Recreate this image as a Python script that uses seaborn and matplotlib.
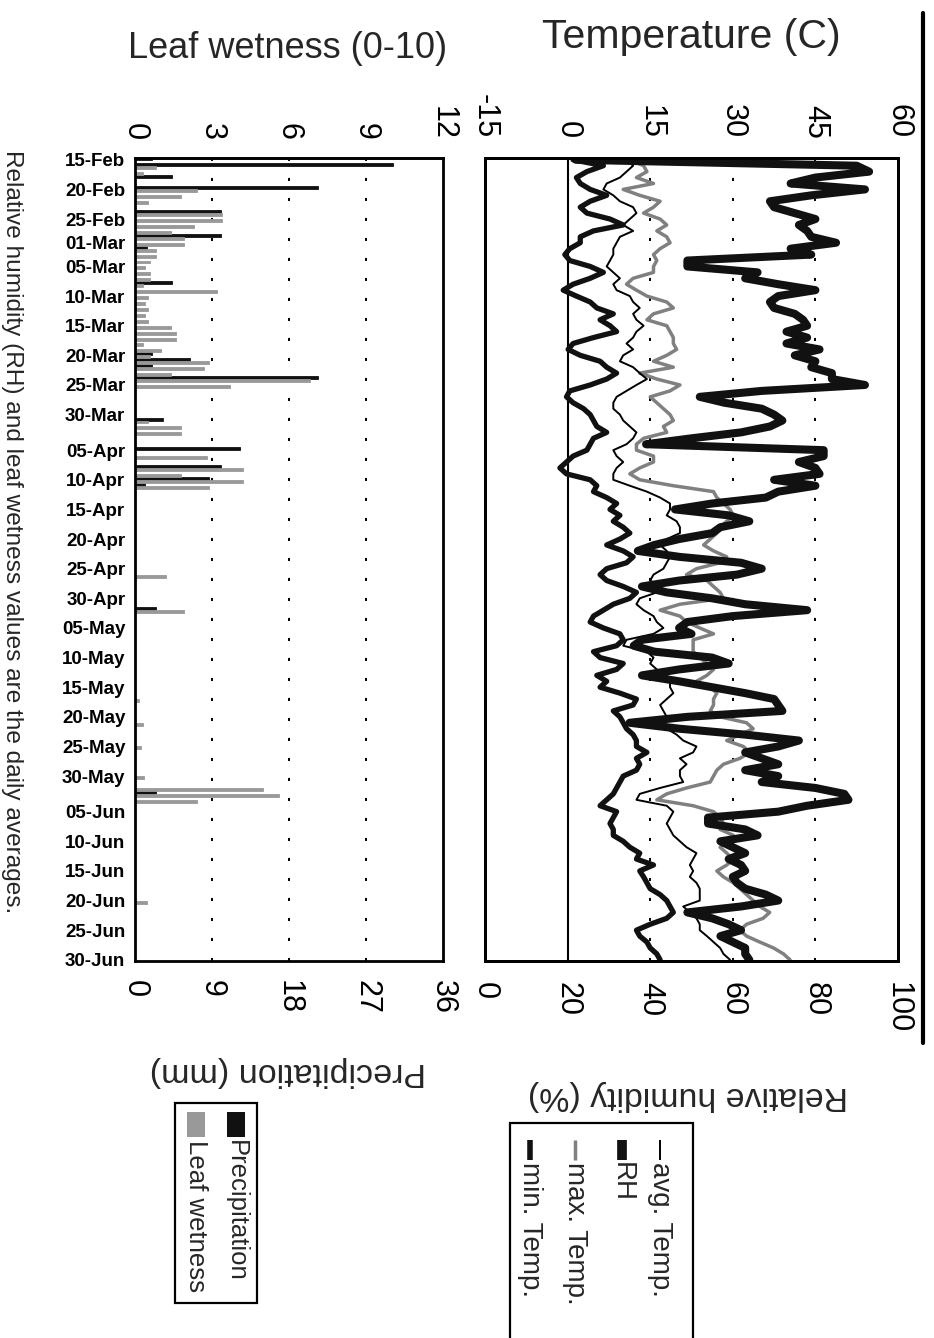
import numpy as np
import pandas as pd
import matplotlib
matplotlib.use("Agg")
import matplotlib.pyplot as plt
import seaborn as sns
from matplotlib.lines import Line2D
from matplotlib.patches import Rectangle

# daily values, 15-Feb .. 30-Jun (136 days)
start_date = "15-Feb-2001"
date_labels = ["15-Feb", "20-Feb", "25-Feb", "01-Mar", "05-Mar", "10-Mar", "15-Mar",
               "20-Mar", "25-Mar", "30-Mar", "05-Apr", "10-Apr", "15-Apr", "20-Apr",
               "25-Apr", "30-Apr", "05-May", "10-May", "15-May", "20-May", "25-May",
               "30-May", "05-Jun", "10-Jun", "15-Jun", "20-Jun", "25-Jun", "30-Jun"]

min_temp = [1.0, 6.5, 3.5, 1.6, 2.3, 4.1, 7.1, 4.1, 2.3, 3.5,
            7.7, 10.1, 4.7, 2.3, 2.3, 0.4, -0.5, 0.4, 4.1, 6.5,
            4.1, 1.0, -0.8, 1.6, 4.1, 5.3, 8.3, 5.9, 7.7, 8.9,
            4.7, 1.0, 0.1, 2.3, 5.9, 7.1, 8.9, 7.1, 4.1, 0.4,
            -0.2, 1.0, 2.9, 4.1, 4.7, 5.3, 7.1, 4.7, 4.1, 3.5,
            1.0, -0.2, -1.4, -0.2, 4.1, 5.3, 4.7, 7.1, 8.9, 7.7,
            9.5, 8.3, 10.1, 11.3, 9.5, 7.1, 10.1, 11.9, 10.7, 7.1,
            5.9, 7.1, 10.1, 12.5, 11.3, 8.3, 6.5, 4.7, 4.1, 6.5,
            9.5, 10.1, 8.9, 4.7, 5.9, 10.1, 8.9, 5.3, 7.1, 5.9,
            9.5, 12.5, 11.9, 8.3, 9.5, 10.1, 10.7, 11.9, 12.5, 12.5,
            14.4, 12.5, 13.1, 12.5, 10.1, 9.5, 8.9, 8.3, 7.1, 5.9,
            8.9, 8.3, 7.7, 8.3, 8.3, 10.1, 11.3, 13.1, 12.5, 15.6,
            13.1, 13.8, 14.4, 15.0, 16.8, 18.0, 18.6, 19.2, 18.0, 15.0,
            12.5, 13.1, 14.4, 15.0, 16.2, 16.8]

avg_temp = [10.7, 11.9, 10.7, 9.5, 7.1, 6.5, 8.3, 9.5, 11.9, 12.5,
            11.3, 10.1, 11.9, 9.5, 8.9, 8.3, 8.3, 7.7, 7.1, 8.3,
            9.5, 8.3, 8.9, 11.3, 11.9, 13.1, 11.9, 12.5, 13.8, 12.5,
            11.9, 10.7, 11.9, 10.1, 9.5, 11.9, 13.1, 14.4, 12.5, 10.7,
            8.9, 8.3, 8.3, 9.5, 10.1, 11.3, 12.5, 11.9, 10.7, 8.3,
            8.9, 10.1, 8.9, 8.3, 8.3, 11.3, 14.4, 16.8, 18.6, 18.6,
            18.0, 19.8, 20.4, 20.4, 18.0, 16.8, 18.0, 18.6, 18.0, 17.4,
            15.6, 15.0, 16.8, 16.2, 13.1, 12.5, 13.8, 15.6, 16.2, 17.4,
            15.6, 10.7, 10.1, 14.4, 15.6, 15.0, 16.2, 18.0, 18.6, 18.6,
            19.2, 18.0, 16.8, 17.4, 18.0, 16.8, 18.0, 19.8, 21.0, 23.4,
            22.8, 20.4, 21.6, 20.4, 20.4, 21.0, 16.8, 13.1, 12.5, 18.0,
            19.2, 18.6, 18.0, 18.6, 19.2, 20.4, 21.6, 23.4, 22.8, 22.2,
            22.8, 22.2, 23.4, 24.0, 24.0, 24.0, 21.0, 22.2, 23.4, 24.0,
            24.0, 25.3, 26.5, 27.7, 28.3, 29.5]

max_temp = [11.3, 13.8, 14.4, 12.5, 15.6, 10.1, 13.1, 16.8, 15.6, 13.8,
            16.8, 18.0, 16.2, 18.0, 18.6, 16.8, 15.6, 16.2, 15.6, 15.6,
            11.9, 10.7, 12.5, 14.4, 18.0, 19.2, 15.6, 14.4, 18.0, 18.6,
            19.2, 19.2, 19.8, 18.0, 15.6, 19.2, 13.1, 16.2, 20.4, 18.6,
            15.0, 16.2, 17.4, 18.6, 19.2, 17.4, 18.0, 13.8, 12.5, 12.5,
            15.6, 15.6, 13.1, 11.3, 13.1, 19.2, 26.5, 27.1, 28.3, 29.5,
            30.1, 28.9, 27.7, 27.1, 25.9, 24.7, 26.5, 28.9, 27.7, 23.4,
            21.6, 25.3, 26.5, 27.7, 28.3, 20.4, 16.8, 20.4, 21.6, 24.0,
            26.5, 22.8, 22.8, 22.8, 24.0, 25.3, 26.5, 25.3, 23.4, 25.9,
            27.1, 26.5, 26.5, 25.9, 27.7, 32.5, 33.7, 31.3, 28.9, 31.9,
            33.1, 31.3, 28.3, 27.1, 26.5, 25.9, 21.6, 18.0, 16.2, 22.8,
            26.5, 27.7, 28.3, 27.7, 30.1, 28.9, 27.7, 28.9, 30.1, 28.9,
            27.1, 28.3, 30.1, 31.3, 32.5, 33.7, 34.9, 36.7, 35.5, 32.5,
            31.3, 32.5, 34.9, 37.4, 39.2, 40.4]

rh = [22, 90, 93, 80, 74, 92, 79, 69, 70, 75,
      80, 76, 78, 79, 85, 74, 79, 49, 49, 66,
      63, 71, 80, 71, 69, 70, 75, 77, 78, 73,
      78, 73, 81, 75, 80, 79, 84, 84, 92, 67,
      52, 58, 67, 70, 72, 69, 62, 50, 39, 82,
      82, 76, 80, 81, 70, 80, 71, 68, 55, 46,
      59, 64, 57, 55, 47, 41, 37, 47, 62, 67,
      61, 47, 38, 44, 55, 63, 78, 60, 49, 47,
      50, 38, 36, 41, 55, 59, 47, 38, 47, 55,
      63, 70, 71, 72, 49, 35, 47, 63, 76, 71,
      63, 67, 71, 63, 71, 67, 80, 87, 88, 78,
      71, 54, 54, 63, 66, 57, 60, 63, 59, 62,
      63, 60, 61, 63, 68, 71, 62, 49, 55, 59,
      62, 57, 60, 63, 63, 64]

precipitation = [2.0, 30.2, 0, 4.3, 0, 21.4, 0, 0, 0, 10.1,
                 0, 0, 0, 10.1, 0, 1.4, 0, 0, 0, 0,
                 0, 4.3, 0, 0, 0, 0, 0, 0, 0, 0,
                 0, 0, 0, 2.0, 6.4, 2.0, 0, 21.4, 0, 0,
                 0, 0, 0, 0, 3.3, 0, 0, 0, 0, 12.3,
                 0, 0, 10.1, 0, 8.6, 1.2, 0, 0, 0, 0,
                 0, 0, 0, 0, 0, 0, 0, 0, 0, 0,
                 0, 0, 0, 0, 0, 0, 2.5, 0, 0, 0,
                 0, 0, 0, 0, 0, 0, 0, 0, 0, 0,
                 0, 0, 0, 0, 0, 0, 0, 0, 0, 0,
                 0, 0, 0, 0, 0, 0, 0, 2.5, 0, 0,
                 0, 0, 0, 0, 0, 0, 0, 0, 0, 0,
                 0, 0, 0, 0, 0, 0, 0, 0, 0, 0,
                 0, 0, 0, 0, 0, 0]

leaf_wetness = [0, 0.8, 0.3, 0, 0, 2.4, 1.8, 0.5, 0, 3.4,
                3.4, 2.3, 1.4, 1.9, 1.9, 0.8, 0.8, 0.6, 0.4, 0.6,
                0.6, 0.3, 3.2, 0.5, 0.4, 0.5, 0.4, 0.5, 1.4, 1.6,
                1.6, 0.3, 1.0, 0.6, 2.9, 2.7, 1.4, 6.8, 3.7, 0,
                0, 0, 0, 0, 0.5, 1.8, 1.8, 0, 0, 0,
                2.8, 0, 4.2, 1.8, 4.2, 2.9, 0, 0, 0, 0,
                0, 0, 0, 0, 0, 0, 0, 0, 0, 0,
                1.2, 0, 0, 0, 0, 0, 1.9, 0, 0, 0,
                0, 0, 0, 0, 0, 0, 0, 0, 0, 0,
                0, 0.15, 0, 0, 0, 0.3, 0, 0, 0, 0.25,
                0, 0, 0, 0, 0.35, 0, 5.0, 5.6, 2.4, 0,
                0, 0, 0, 0, 0, 0, 0, 0, 0, 0,
                0, 0, 0, 0, 0, 0.45, 0, 0, 0, 0,
                0, 0, 0, 0, 0, 0]

temp_ticks = [-15, 0, 15, 30, 45, 60]
rh_ticks = [0, 20, 40, 60, 80, 100]
precip_ticks = [0, 9, 18, 27, 36]
wet_ticks = [0, 3, 6, 9, 12]

W, H = 934, 1338


def fx(x):
    return x / W


def fy(y):
    return 1 - y / H


sns.set_theme(style="white")
plt.rcParams['font.family'] = ['Liberation Sans', 'DejaVu Sans']
plt.rcParams['lines.scale_dashes'] = False
plt.rcParams['axes.unicode_minus'] = False

fig = plt.figure(figsize=(9.34, 13.38), dpi=100)
top, bottom = 158, 961
ax_bar = fig.add_axes([fx(135), fy(bottom), (443 - 135) / W, (bottom - top) / H])
ax_t = fig.add_axes([fx(485), fy(bottom), (898 - 485) / W, (bottom - top) / H])

days = np.arange(len(rh))
n = len(days)
day_pos = [(pd.to_datetime(d + "-2001", format="%d-%b-%Y")
            - pd.to_datetime(start_date, format="%d-%b-%Y")).days for d in date_labels]
ylims = (135.2, -0.3)
dots = (0, (2.2, 12.2))
black = "#111111"
gray_bar = "#999999"
gray_line = "#808080"

# ---- bars: precipitation (bottom axis) and leaf wetness (top axis, x3 scale)
bars = pd.DataFrame({
    "day": np.tile(days, 2),
    "value": np.concatenate([precipitation, np.array(leaf_wetness) * 3]),
    "series": ["Precipitation"] * n + ["Leaf wetness"] * n,
})
sns.barplot(data=bars, x="value", y="day", hue="series", orient="h",
            hue_order=["Precipitation", "Leaf wetness"],
            palette=[black, gray_bar], width=1.0, dodge=True,
            saturation=1, errorbar=None, legend=False, linewidth=0.6,
            ax=ax_bar)
for patch in ax_bar.patches:
    patch.set_edgecolor(patch.get_facecolor())
for v in precip_ticks[1:-1]:
    ax_bar.axvline(v, color="black", lw=1.4, ls=dots, zorder=0)
ax_bar.set_xlim(0, 36)
ax_bar.set_ylim(*ylims)
ax_bar.set_xticks(precip_ticks)
ax_bar.set_yticks(day_pos, date_labels)
ax_bar.set_xlabel("")
ax_bar.set_ylabel("")
ax_bar.tick_params(axis="y", length=0, pad=7, labelsize=13.5, labelcolor="black")
for lab in ax_bar.get_yticklabels():
    lab.set_fontweight("bold")
ax_bar.tick_params(axis="x", length=0, pad=14, labelsize=22, labelrotation=-90,
                   labelcolor="black")
sec = ax_bar.secondary_xaxis("top", functions=(lambda p: p / 3, lambda w: w * 3))
sec.set_xticks(wet_ticks)
sec.tick_params(length=0, pad=13, labelsize=22, labelrotation=-90, labelcolor="black")

# ---- lines: temperatures (top axis) and RH (bottom axis)
sns.lineplot(x=max_temp, y=days, orient="y", color=gray_line, linewidth=2.5,
             solid_joinstyle="round", ax=ax_t)
sns.lineplot(x=avg_temp, y=days, orient="y", color="black", linewidth=1.4,
             solid_joinstyle="round", ax=ax_t)
sns.lineplot(x=min_temp, y=days, orient="y", color=black, linewidth=3.8,
             solid_joinstyle="round", ax=ax_t)
for v in temp_ticks[2:-1]:
    ax_t.axvline(v, color="black", lw=1.4, ls=dots, zorder=0)
ax_t.axvline(0, color="black", lw=1.5, zorder=0)

ax_rh = ax_t.twiny()
sns.lineplot(x=rh, y=days, orient="y", color=black, linewidth=5.8,
             solid_joinstyle="round", ax=ax_rh)

ax_t.set_xlim(-15, 60)
ax_t.set_xticks(temp_ticks)
ax_t.xaxis.tick_top()
ax_t.set_yticks([])
ax_t.set_xlabel("")
ax_t.set_ylabel("")
ax_t.tick_params(axis="x", length=0, pad=14, labelsize=22, labelrotation=-90,
                 labelcolor="black")
ax_rh.set_xlim(0, 100)
ax_rh.set_xticks(rh_ticks)
ax_rh.xaxis.tick_bottom()
ax_rh.set_xlabel("")
ax_rh.tick_params(axis="x", length=0, pad=15, labelsize=22, labelrotation=-90,
                  labelcolor="black")
ax_t.set_ylim(*ylims)

for a in (ax_bar, ax_t, ax_rh):
    for s in a.spines.values():
        s.set_linewidth(2)
        s.set_color("black")
sec.spines["top"].set_linewidth(2)

# ---- axis titles (page is rotated)
fig.text(fx(691), fy(37), "Temperature (C)", ha="center", va="center", fontsize=29.5)
fig.text(fx(288), fy(48), "Leaf wetness (0-10)", ha="center", va="center", fontsize=26)
fig.text(fx(688), fy(1095), "Relative humidity (%)", ha="center", va="center",
         rotation=180, fontsize=24.4)
fig.text(fx(288), fy(1072), "Precipitation (mm)", ha="center", va="center",
         rotation=180, fontsize=24.5)
fig.text(fx(12), fy(150),
         "Relative humidity (RH) and leaf wetness values are the daily averages.",
         ha="center", va="top", rotation=-90, fontsize=17.6)

# ---- legends, drawn rotated like the page
fig.add_artist(Rectangle((fx(510), fy(1345)), (693 - 510) / W, (1345 - 1123) / H,
                         transform=fig.transFigure, fill=False, ec="black", lw=1.6))
line_legend = [("avg. Temp.", 660, "black", 1.4), ("RH", 622, black, 7.0),
               ("max. Temp.", 575, gray_line, 2.5), ("min. Temp.", 530, black, 4.0)]
for label, x, c, lw in line_legend:
    fig.add_artist(Line2D([fx(x), fx(x)], [fy(1140), fy(1160)], transform=fig.transFigure,
                          color=c, lw=lw, solid_capstyle="butt"))
    fig.text(fx(x), fy(1162), label, ha="center", va="top", rotation=-90, fontsize=20)

fig.add_artist(Rectangle((fx(175), fy(1303)), (257 - 175) / W, (1303 - 1103) / H,
                         transform=fig.transFigure, fill=False, ec="black", lw=1.6))
bar_legend = [("Precipitation", 236, black), ("Leaf wetness", 196, gray_bar)]
for label, x, c in bar_legend:
    fig.add_artist(Rectangle((fx(x - 9), fy(1137)), 18 / W, 25 / H,
                             transform=fig.transFigure, color=c, lw=0))
    fig.text(fx(x), fy(1140), label, ha="center", va="top", rotation=-90, fontsize=18.5)

# page edge rule
fig.add_artist(Line2D([fx(923), fx(923)], [fy(13), fy(1043)], transform=fig.transFigure,
                      color="black", lw=3))

fig.savefig("out.png", dpi=100, facecolor="white")
